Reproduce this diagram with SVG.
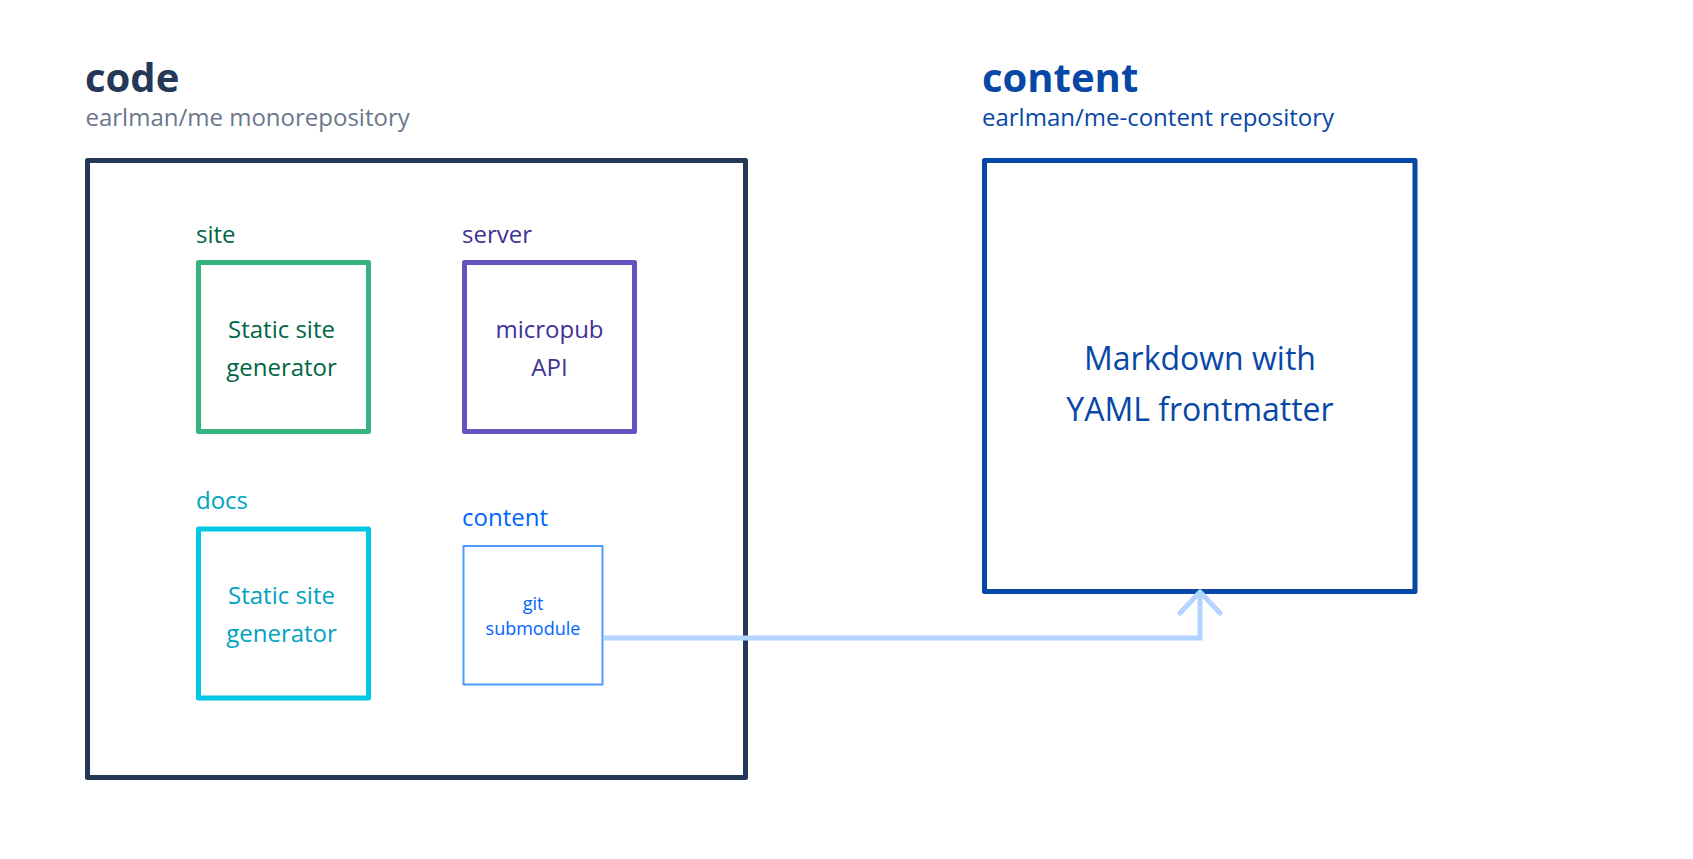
<svg xmlns="http://www.w3.org/2000/svg" width="1693" height="859" viewBox="0 0 1693 859">
<style>
text{font-family:"Open Sans","Noto Sans","Liberation Sans",sans-serif}
.title{font-size:40px;font-weight:700}
.sub{font-size:24px}
.lbl{font-size:24px}
.mid{text-anchor:middle}
.box{fill:#fff;stroke-linejoin:round}
</style>
<rect width="1693" height="859" fill="#fff"/>
<g id="code-repo">
<text class="title" x="85" y="92" fill="#253858">code</text>
<text class="sub" x="85.5" y="126" fill="#6B778C">earlman/me monorepository</text>
<rect class="box" x="87.5" y="160.5" width="658" height="617" stroke="#253858" stroke-width="5"/>
</g>
<g id="content-repo">
<text class="title" x="982" y="92" fill="#0747A6">content</text>
<text class="sub" x="982" y="126" fill="#0747A6">earlman/me-content repository</text>
<rect class="box" x="984.5" y="160.5" width="430.5" height="431" stroke="#0747A6" stroke-width="5"/>
<text class="mid" x="1200" y="370" font-size="32" fill="#0747A6">Markdown with</text>
<text class="mid" x="1200" y="421" font-size="32" fill="#0747A6">YAML frontmatter</text>
</g>
<g id="site">
<text class="lbl" x="196" y="243" fill="#006644">site</text>
<rect class="box" x="198.5" y="262.5" width="170" height="169" stroke="#36B37E" stroke-width="5"/>
<text class="lbl mid" x="281.5" y="338" fill="#006644">Static site</text>
<text class="lbl mid" x="281.5" y="376" fill="#006644">generator</text>
</g>
<g id="server">
<text class="lbl" x="462" y="243" fill="#403294">server</text>
<rect class="box" x="464.5" y="262.5" width="170" height="169" stroke="#6554C0" stroke-width="5"/>
<text class="lbl mid" x="549.5" y="338" fill="#403294">micropub</text>
<text class="lbl mid" x="549.5" y="376" fill="#403294">API</text>
</g>
<g id="docs">
<text class="lbl" x="196" y="509" fill="#00A3BF">docs</text>
<rect class="box" x="198.5" y="529" width="170" height="169" stroke="#00C7E6" stroke-width="5"/>
<text class="lbl mid" x="281.5" y="604" fill="#00A3BF">Static site</text>
<text class="lbl mid" x="281.5" y="642" fill="#00A3BF">generator</text>
</g>
<g id="submodule">
<text class="lbl" x="462" y="526" fill="#0065FF">content</text>
<rect class="box" x="463.5" y="546" width="139" height="138.5" stroke="#4C9AFF" stroke-width="2"/>
<text class="mid" x="533" y="610" font-size="18" fill="#0065FF">git</text>
<text class="mid" x="533" y="635" font-size="18" fill="#0065FF">submodule</text>
</g>
<g id="connectors" fill="none" stroke="#B3D4FF" stroke-width="5">
<path d="M603 638 H1200 V594"/>
<path d="M1180 613 L1200 592 L1220 613" stroke-linecap="round" stroke-linejoin="round"/>
</g>
</svg>
